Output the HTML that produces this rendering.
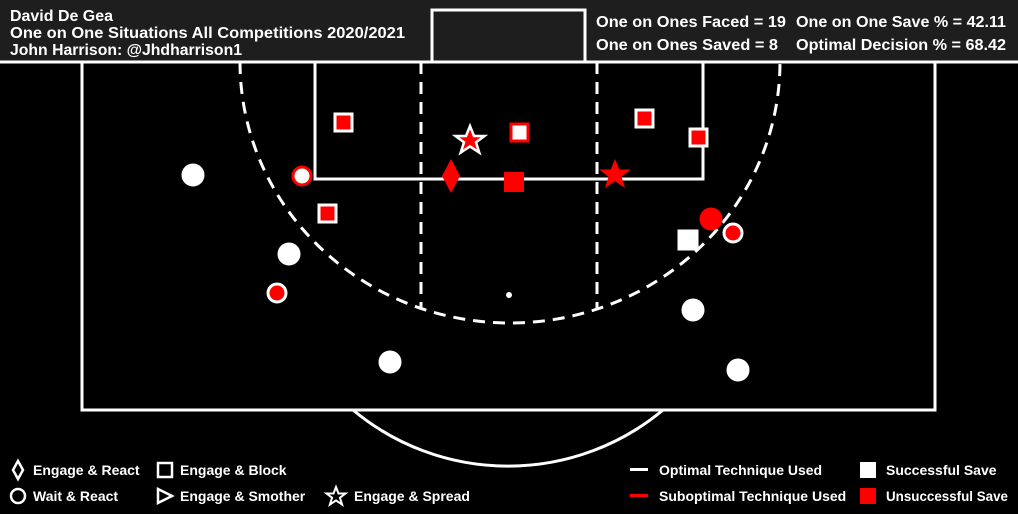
<!DOCTYPE html>
<html><head><style>
body{margin:0;background:#000;}
svg{display:block;font-family:"Liberation Sans",sans-serif;font-weight:bold;}
</style></head><body>
<svg width="1018" height="514" viewBox="0 0 1018 514">
<rect width="1018" height="514" fill="#000"/>
<rect x="0" y="0" width="1018" height="62" fill="#1e1e1e"/>
<rect x="432" y="10" width="153" height="52" fill="#1e1e1e" stroke="#fff" stroke-width="3"/>
<g fill="#fff" font-size="15.5">
<text x="10" y="21" textLength="103" lengthAdjust="spacingAndGlyphs">David De Gea</text>
<text x="10" y="38" textLength="395" lengthAdjust="spacingAndGlyphs">One on One Situations All Competitions 2020/2021</text>
<text x="10" y="55" textLength="232" lengthAdjust="spacingAndGlyphs">John Harrison: @Jhdharrison1</text>
<text x="596" y="27" textLength="190" lengthAdjust="spacingAndGlyphs">One on Ones Faced = 19</text>
<text x="796" y="27" textLength="210" lengthAdjust="spacingAndGlyphs">One on One Save % = 42.11</text>
<text x="596" y="50" textLength="182" lengthAdjust="spacingAndGlyphs">One on Ones Saved = 8</text>
<text x="796" y="50" textLength="210" lengthAdjust="spacingAndGlyphs">Optimal Decision % = 68.42</text>
</g>
<g fill="none" stroke="#fff" stroke-width="3">
<path d="M82 62 V410 H935 V62"/>
<path d="M0 62 H1018"/>
<path d="M315 62 V179 H703 V62"/>
<path d="M421 62 V308 M597 62 V308" stroke-dasharray="12 8"/>
<path d="M240 62 A270 261 0 0 0 780 62" stroke-dasharray="12 8"/>
<path d="M353 410 A242 242 0 0 0 663 410"/>
</g>
<circle cx="509" cy="295" r="3" fill="#fff"/>
<g stroke-width="3">
<g fill="#fff" stroke="#fff">
<circle cx="193" cy="175" r="10"/><circle cx="289" cy="254" r="10"/><circle cx="390" cy="362" r="10"/><circle cx="693" cy="310" r="10"/><circle cx="738" cy="370" r="10"/>
<rect x="679" y="231" width="18" height="18"/>
</g>
<circle cx="277" cy="293" r="9" fill="#f00" stroke="#fff"/>
<circle cx="733" cy="233" r="9" fill="#f00" stroke="#fff"/>
<circle cx="302" cy="176" r="9" fill="#fff" stroke="#f00"/>
<circle cx="711" cy="219" r="10" fill="#f00" stroke="#f00"/>
<g fill="#f00" stroke="#fff">
<rect x="335" y="114" width="17" height="17"/><rect x="319" y="205" width="17" height="17"/><rect x="636" y="110" width="17" height="17"/><rect x="690" y="129" width="17" height="17"/>
</g>
<rect x="511" y="124" width="17" height="17" fill="#fff" stroke="#f00"/>
<rect x="504" y="172" width="20" height="20" fill="#f00"/>
<path d="M451 159 L460 176 L451 193 L442 176Z" fill="#f00"/>
<path d="M470 126 l4 10 h10.5 l-8.5 6.4 l3.3 10.2 l-9.3 -6.2 l-9.3 6.2 l3.3 -10.2 l-8.5 -6.4 h10.5z" fill="#f00" stroke="#fff" stroke-width="2.5"/>
<path d="M615 159 l4.3 10.5 h11.5 l-9.3 7.2 l3.6 11.3 l-10.1 -6.8 l-10.1 6.8 l3.6 -11.3 l-9.3 -7.2 h11.5z" fill="#f00"/>
</g>
<g fill="#fff" font-size="14">
<path d="M18 461 l5 9 l-5 9 l-5 -9z" fill="none" stroke="#fff" stroke-width="2.5"/>
<text x="33" y="475">Engage &amp; React</text>
<rect x="158" y="463" width="14" height="14" fill="none" stroke="#fff" stroke-width="2.5"/>
<text x="180" y="475">Engage &amp; Block</text>
<circle cx="18" cy="496" r="7" fill="none" stroke="#fff" stroke-width="2.5"/>
<text x="33" y="501">Wait &amp; React</text>
<path d="M158 489 l14 7 l-14 7z" fill="none" stroke="#fff" stroke-width="2.5"/>
<text x="180" y="501">Engage &amp; Smother</text>
<path d="M336 487 l2.5 6.5 h7 l-5.6 4.2 l2.2 6.8 l-6.1 -4.1 l-6.1 4.1 l2.2 -6.8 l-5.6 -4.2 h7z" fill="none" stroke="#fff" stroke-width="2"/>
<text x="354" y="501">Engage &amp; Spread</text>
<rect x="630" y="468" width="18" height="3"/>
<text x="659" y="475">Optimal Technique Used</text>
<rect x="630" y="494" width="18" height="3" fill="#f00"/>
<text x="659" y="501">Suboptimal Technique Used</text>
<rect x="860" y="462" width="16" height="16"/>
<text x="886" y="475">Successful Save</text>
<rect x="860" y="488" width="16" height="16" fill="#f00"/>
<text x="886" y="501" textLength="122" lengthAdjust="spacingAndGlyphs">Unsuccessful Save</text>
</g>
</svg>
</body></html>
